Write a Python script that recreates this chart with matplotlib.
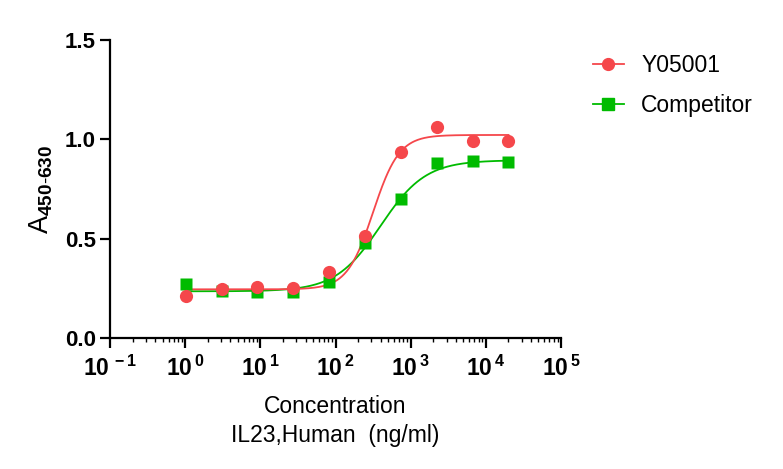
import matplotlib.pyplot as plt
import numpy as np

plt.rcParams['font.family'] = ['Liberation Sans', 'DejaVu Sans']
plt.rcParams['mathtext.fontset'] = 'custom'
plt.rcParams['mathtext.rm'] = 'Liberation Sans'
plt.rcParams['mathtext.bf'] = 'Liberation Sans:bold'

# 3-fold dilution series, ng/ml
conc = [1.016, 3.05, 9.14, 27.4, 82.3, 247, 741, 2222, 6667, 20000]
y05001 = [0.211, 0.247, 0.257, 0.250, 0.330, 0.513, 0.936, 1.062, 0.990, 0.990]
competitor = [0.270, 0.237, 0.230, 0.230, 0.280, 0.478, 0.700, 0.880, 0.890, 0.886]

# 4PL fit parameters: bottom, top, logEC50, hill
fit_y05001 = (0.245, 1.022, 2.50, 2.5)
fit_competitor = (0.235, 0.895, 2.60, 1.45)

red = '#F5474B'
green = '#00BB00'


def four_pl(x, bottom, top, logec, hill):
    return bottom + (top - bottom) / (1 + 10 ** (hill * (logec - np.log10(x))))


fig = plt.figure(figsize=(7.83, 4.69), dpi=100)
ax = fig.add_axes([0.1405, 0.2793, 0.576, 0.6354])

xs = np.logspace(np.log10(conc[0]), np.log10(conc[-1]), 400)
ax.plot(xs, four_pl(xs, *fit_competitor), color=green, lw=1.3)
ax.plot(xs, four_pl(xs, *fit_y05001), color=red, lw=1.3)
ax.plot(conc, competitor, 's', color=green, ms=9, mec='none')
ax.plot(conc, y05001, 'o', color=red, ms=9.5, mec='none')

# legend handles
ax.plot([], [], '-s', color=green, ms=8, lw=1.3, label='Competitor')
ax.plot([], [], '-o', color=red, ms=8.5, lw=1.3, label='Y05001')
h, l = ax.get_legend_handles_labels()
fig.legend(h[::-1], l[::-1], loc='upper left', bbox_to_anchor=(593 / 783, 1 - 54 / 469),
           frameon=False, fontsize=16.5, labelspacing=0.75, handlelength=1.35,
           handletextpad=0.75, borderpad=0, borderaxespad=0)

ax.set_xscale('log')
ax.set_xlim(0.1, 1e5)
ax.set_ylim(0, 1.5)
ax.set_yticks([0, 0.5, 1.0, 1.5])
ax.set_yticklabels(['0.0', '0.5', '1.0', '1.5'], fontsize=16, fontweight='bold')
xt = [0.1, 1, 10, 100, 1e3, 1e4, 1e5]
ax.set_xticks(xt)
ax.set_xticklabels([r'$\mathbf{10^{\,%d}}$' % e for e in range(-1, 6)], fontsize=16.5)

for s in ['top', 'right']:
    ax.spines[s].set_visible(False)
for s in ['left', 'bottom']:
    ax.spines[s].set_linewidth(1.6)
ax.tick_params(axis='y', which='major', length=7, width=1.6, direction='out', pad=3)
ax.tick_params(axis='x', which='major', length=7, width=1.6, direction='out', pad=6)
ax.tick_params(axis='x', which='minor', length=3, width=1.0, direction='out')

ax.set_xlabel('Concentration\nIL23,Human  (ng/ml)', fontsize=16.5, linespacing=1.3,
              labelpad=10)
ax.set_ylabel(r'A$_{\mathbf{450\text{-}630}}$', fontsize=19.5, labelpad=7)

fig.savefig('out.png', dpi=100)
